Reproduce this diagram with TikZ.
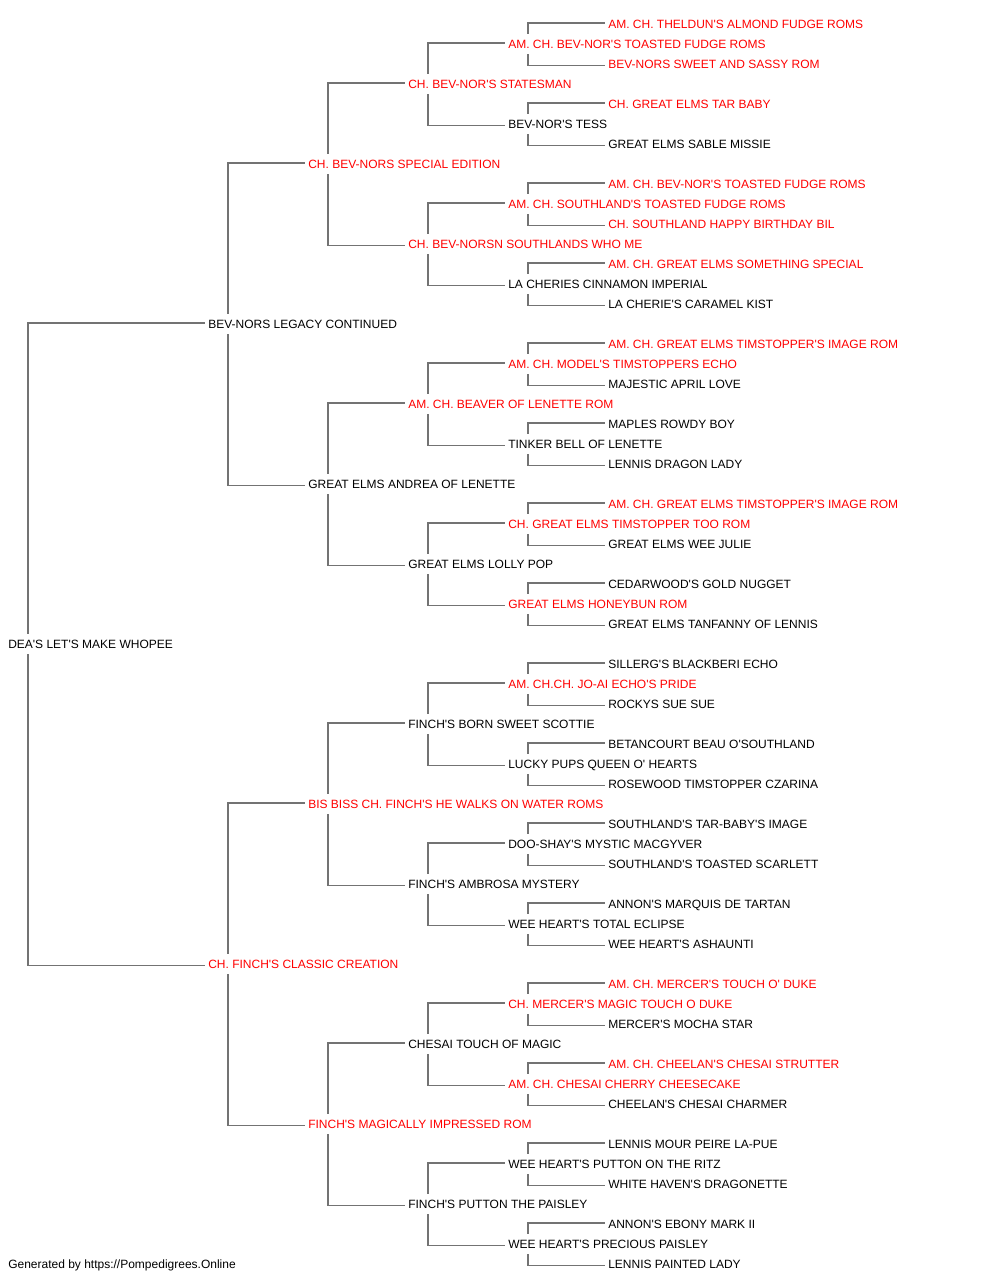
\documentclass[tikz,border=0pt]{standalone}
\usepackage{fontspec}
\setmainfont{Liberation Sans}[Ligatures=TeXOff]
\usetikzlibrary{backgrounds}
\definecolor{linegray}{RGB}{115,115,115}
\definecolor{titlered}{RGB}{255,0,0}
\tikzset{
  lbl/.style={anchor=west, inner xsep=2.25pt, inner ysep=0pt, text height=6.5pt, text depth=0pt,
    minimum height=15pt, fill=white, font=\fontsize{9pt}{11pt}\selectfont},
  red/.style={text=titlered},
  conn/.style={draw=linegray, line width=1.2pt}
}
\begin{document}
\begin{tikzpicture}[x=0.75pt, y=-0.75pt]
\useasboundingbox (0,-1) rectangle (1000,1279);
% generation 5 x=605, gen4 505, gen3 405, gen2 305, gen1 205, gen0 5
\node[lbl,red] (n1) at (605,23) {AM. CH. THELDUN'S ALMOND FUDGE ROMS};
\node[lbl,red] (n2) at (505,43) {AM. CH. BEV-NOR'S TOASTED FUDGE ROMS};
\node[lbl,red] (n3) at (605,63) {BEV-NORS SWEET AND SASSY ROM};
\node[lbl,red] (n4) at (405,83) {CH. BEV-NOR'S STATESMAN};
\node[lbl,red] (n5) at (605,103) {CH. GREAT ELMS TAR BABY};
\node[lbl] (n6) at (505,123) {BEV-NOR'S TESS};
\node[lbl] (n7) at (605,143) {GREAT ELMS SABLE MISSIE};
\node[lbl,red] (n8) at (305,163) {CH. BEV-NORS SPECIAL EDITION};
\node[lbl,red] (n9) at (605,183) {AM. CH. BEV-NOR'S TOASTED FUDGE ROMS};
\node[lbl,red] (n10) at (505,203) {AM. CH. SOUTHLAND'S TOASTED FUDGE ROMS};
\node[lbl,red] (n11) at (605,223) {CH. SOUTHLAND HAPPY BIRTHDAY BIL};
\node[lbl,red] (n12) at (405,243) {CH. BEV-NORSN SOUTHLANDS WHO ME};
\node[lbl,red] (n13) at (605,263) {AM. CH. GREAT ELMS SOMETHING SPECIAL};
\node[lbl] (n14) at (505,283) {LA CHERIES CINNAMON IMPERIAL};
\node[lbl] (n15) at (605,303) {LA CHERIE'S CARAMEL KIST};
\node[lbl] (n16) at (205,323) {BEV-NORS LEGACY CONTINUED};
\node[lbl,red] (n17) at (605,343) {AM. CH. GREAT ELMS TIMSTOPPER'S IMAGE ROM};
\node[lbl,red] (n18) at (505,363) {AM. CH. MODEL'S TIMSTOPPERS ECHO};
\node[lbl] (n19) at (605,383) {MAJESTIC APRIL LOVE};
\node[lbl,red] (n20) at (405,403) {AM. CH. BEAVER OF LENETTE ROM};
\node[lbl] (n21) at (605,423) {MAPLES ROWDY BOY};
\node[lbl] (n22) at (505,443) {TINKER BELL OF LENETTE};
\node[lbl] (n23) at (605,463) {LENNIS DRAGON LADY};
\node[lbl] (n24) at (305,483) {GREAT ELMS ANDREA OF LENETTE};
\node[lbl,red] (n25) at (605,503) {AM. CH. GREAT ELMS TIMSTOPPER'S IMAGE ROM};
\node[lbl,red] (n26) at (505,523) {CH. GREAT ELMS TIMSTOPPER TOO ROM};
\node[lbl] (n27) at (605,543) {GREAT ELMS WEE JULIE};
\node[lbl] (n28) at (405,563) {GREAT ELMS LOLLY POP};
\node[lbl] (n29) at (605,583) {CEDARWOOD'S GOLD NUGGET};
\node[lbl,red] (n30) at (505,603) {GREAT ELMS HONEYBUN ROM};
\node[lbl] (n31) at (605,623) {GREAT ELMS TANFANNY OF LENNIS};
\node[lbl] (n32) at (5,643) {DEA'S LET'S MAKE WHOPEE};
\node[lbl] (n33) at (605,663) {SILLERG'S BLACKBERI ECHO};
\node[lbl,red] (n34) at (505,683) {AM. CH.CH. JO-AI ECHO'S PRIDE};
\node[lbl] (n35) at (605,703) {ROCKYS SUE SUE};
\node[lbl] (n36) at (405,723) {FINCH'S BORN SWEET SCOTTIE};
\node[lbl] (n37) at (605,743) {BETANCOURT BEAU O'SOUTHLAND};
\node[lbl] (n38) at (505,763) {LUCKY PUPS QUEEN O' HEARTS};
\node[lbl] (n39) at (605,783) {ROSEWOOD TIMSTOPPER CZARINA};
\node[lbl,red] (n40) at (305,803) {BIS BISS CH. FINCH'S HE WALKS ON WATER ROMS};
\node[lbl] (n41) at (605,823) {SOUTHLAND'S TAR-BABY'S IMAGE};
\node[lbl] (n42) at (505,843) {DOO-SHAY'S MYSTIC MACGYVER};
\node[lbl] (n43) at (605,863) {SOUTHLAND'S TOASTED SCARLETT};
\node[lbl] (n44) at (405,883) {FINCH'S AMBROSA MYSTERY};
\node[lbl] (n45) at (605,903) {ANNON'S MARQUIS DE TARTAN};
\node[lbl] (n46) at (505,923) {WEE HEART'S TOTAL ECLIPSE};
\node[lbl] (n47) at (605,943) {WEE HEART'S ASHAUNTI};
\node[lbl,red] (n48) at (205,963) {CH. FINCH'S CLASSIC CREATION};
\node[lbl,red] (n49) at (605,983) {AM. CH. MERCER'S TOUCH O' DUKE};
\node[lbl,red] (n50) at (505,1003) {CH. MERCER'S MAGIC TOUCH O DUKE};
\node[lbl] (n51) at (605,1023) {MERCER'S MOCHA STAR};
\node[lbl] (n52) at (405,1043) {CHESAI TOUCH OF MAGIC};
\node[lbl,red] (n53) at (605,1063) {AM. CH. CHEELAN'S CHESAI STRUTTER};
\node[lbl,red] (n54) at (505,1083) {AM. CH. CHESAI CHERRY CHEESECAKE};
\node[lbl] (n55) at (605,1103) {CHEELAN'S CHESAI CHARMER};
\node[lbl,red] (n56) at (305,1123) {FINCH'S MAGICALLY IMPRESSED ROM};
\node[lbl] (n57) at (605,1143) {LENNIS MOUR PEIRE LA-PUE};
\node[lbl] (n58) at (505,1163) {WEE HEART'S PUTTON ON THE RITZ};
\node[lbl] (n59) at (605,1183) {WHITE HAVEN'S DRAGONETTE};
\node[lbl] (n60) at (405,1203) {FINCH'S PUTTON THE PAISLEY};
\node[lbl] (n61) at (605,1223) {ANNON'S EBONY MARK II};
\node[lbl] (n62) at (505,1243) {WEE HEART'S PRECIOUS PAISLEY};
\node[lbl] (n63) at (605,1263) {LENNIS PAINTED LADY};
\node[lbl] (footer) at (5,1263) {Generated by https://Pompedigrees.Online};
\begin{pgfonlayer}{background}
\fill[white] (0,-1) rectangle (1000,1279);
\foreach \p/\d in {2/1,6/1,10/1,14/1,18/1,22/1,26/1,30/1,34/1,38/1,42/1,46/1,50/1,54/1,58/1,62/1,
  4/2,12/2,20/2,28/2,36/2,44/2,52/2,60/2, 8/4,24/4,40/4,56/4, 16/8,48/8, 32/16}{
  \pgfmathtruncatemacro{\ca}{\p-\d}
  \pgfmathtruncatemacro{\cb}{\p+\d}
  \draw[conn] ([xshift=17.25pt]n\p.west) |- ([yshift=0.75pt]n\ca.west);
  \draw[conn] ([xshift=17.25pt]n\p.west) |- ([yshift=-1.1pt]n\cb.west);
}
\end{pgfonlayer}
\end{tikzpicture}
\end{document}
